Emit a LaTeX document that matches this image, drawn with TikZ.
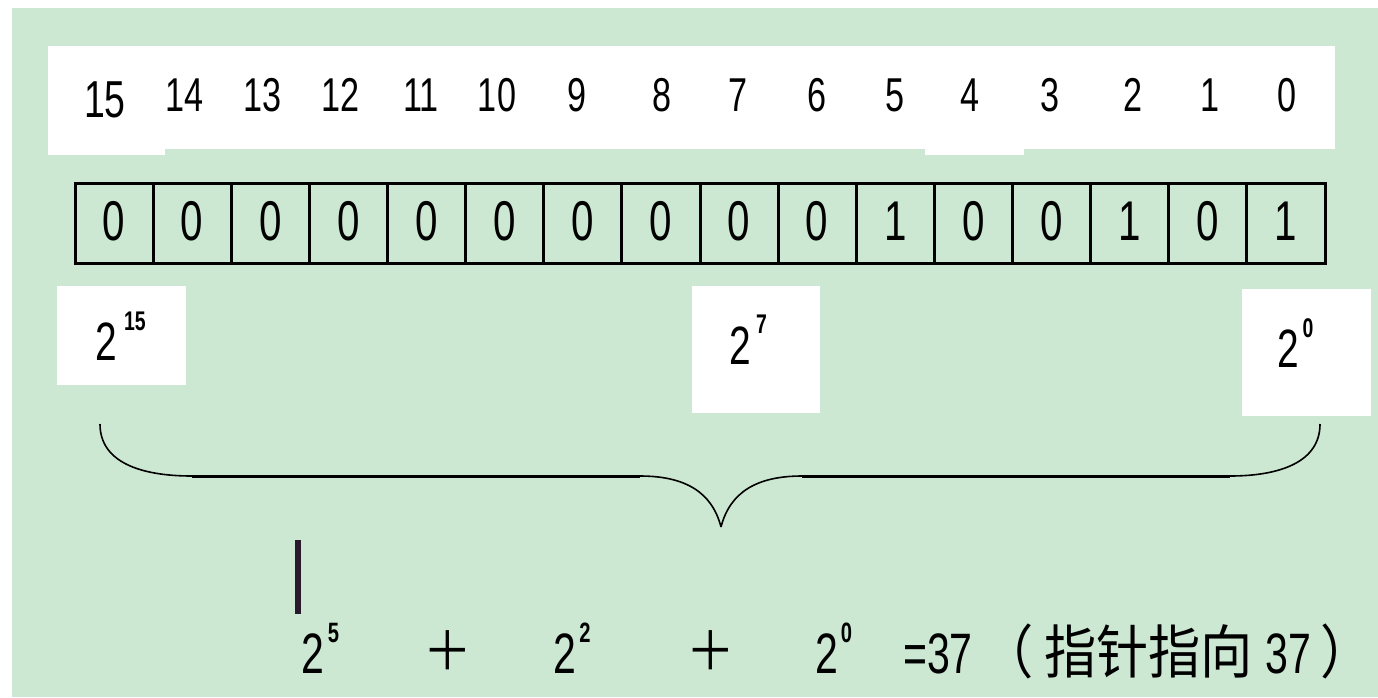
\documentclass[tikz,border=0pt]{standalone}
\usepackage{fontspec}
\newfontfamily\dig[FakeStretch=0.72]{Liberation Sans}
\newfontfamily\cjk[FakeStretch=0.9]{Noto Sans CJK SC}
\definecolor{bg}{RGB}{205,232,210}
\definecolor{barc}{RGB}{42,24,44}
\begin{document}
\begin{tikzpicture}[x=1pt,y=-1pt,
  lbl/.style={inner sep=0,anchor=base},
  idx/.style={lbl,font=\dig\fontsize{47.5}{47.5}\selectfont},
  bit/.style={lbl,font=\dig\fontsize{56}{56}\selectfont},
  cell/.style={draw,line width=3pt,minimum width=78.125pt,minimum height=80pt,inner sep=0,anchor=center},
  base/.style={lbl,font=\dig\fontsize{54}{54}\selectfont},
  sup/.style={lbl,font=\dig\bfseries\fontsize{27}{27}\selectfont},
  big/.style={lbl,font=\dig\fontsize{57}{57}\selectfont},
  bigsup/.style={lbl,font=\dig\bfseries\fontsize{28}{28}\selectfont},
  cjktext/.style={lbl,font=\cjk\fontsize{58}{58}\selectfont},
  hz/.style={line width=3pt},
  cv/.style={line width=1.6pt}]
\useasboundingbox (0,0) rectangle (1378,697);
\fill[white] (0,0) rectangle (1378,697);
\fill[bg] (12,8) rectangle (1378,697);
% index strip
\fill[white] (48,46) rectangle (1335,149);
\fill[white] (48,148) rectangle (165,155);
\fill[white] (925,148) rectangle (1024,155);
\node[idx,font=\dig\fontsize{52}{52}\selectfont] (i15) at (105,117) {15};
\foreach \n/\x in {14/185,13/263,12/341,11/421,10/497,9/577,8/662,7/738,6/817,5/895,4/970,3/1050,2/1133,1/1210,0/1287}
  \node[idx] (i\n) at (\x,111) {\n};
% bit cells
\foreach \i/\b in {0/0,1/0,2/0,3/0,4/0,5/0,6/0,7/0,8/0,9/0,10/1,11/0,12/0,13/1,14/0,15/1}{
  \node[cell] (c\i) at ({75+78.125*(\i+0.5)},223) {};
  \node[bit] (b\i) at ({75+78.125*(\i+0.5)},240) {\b};
}
% power boxes
\fill[white] (57,286) rectangle (186,385);
\fill[white] (692,286) rectangle (820,413);
\fill[white] (1242,289) rectangle (1371,416);
\node[base] (p15) at (106.5,360) {2};
\node[sup] (s15) at (135,330) {15};
\node[base] (p7) at (740.5,364) {2};
\node[sup] (s7) at (761.5,333) {7};
\node[base] (p0) at (1288.5,367) {2};
\node[sup] (s0) at (1308,337) {0};
% brace
\coordinate (bl) at (100,424);
\coordinate (bl2) at (192,476);
\coordinate (bm1) at (640,476);
\coordinate (tip) at (721,527);
\coordinate (bm2) at (802,476);
\coordinate (br2) at (1230,476);
\coordinate (br) at (1320,424);
\draw[cv] (bl) .. controls (100,462) and (140,476) .. (bl2);
\draw[hz] (bl2) -- (bm1);
\draw[cv] (bm1) .. controls (685,476) and (712,492) .. (tip);
\draw[cv] (tip) .. controls (730,492) and (757,476) .. (bm2);
\draw[hz] (bm2) -- (br2);
\draw[cv] (br2) .. controls (1280,476) and (1320,462) .. (br);
% cursor bar
\fill[barc] (295,540) rectangle (301,614);
% sum line
\node[big] (q5) at (312.5,673) {2};
\node[bigsup] (r5) at (333.5,642) {5};
\node[inner sep=0,font=\cjk\fontsize{54}{54}\selectfont] (plus1) at (447.5,651) {＋};
\node[big] (q2) at (564.5,673) {2};
\node[bigsup] (r2) at (585,642) {2};
\node[inner sep=0,font=\cjk\fontsize{54}{54}\selectfont] (plus2) at (711,651) {＋};
\node[big] (q0) at (826.5,673) {2};
\node[bigsup] (r0) at (846.5,642) {0};
\node[big,anchor=base west] (eq) at (903,673) {=37};
\node[cjktext] (lp) at (1008,673) {（};
\node[cjktext,anchor=base west] (txt) at (1044,673) {指针指向};
\node[big] (n37) at (1288,673) {37};
\node[cjktext,anchor=base west] (rp) at (1320,673) {）};
\end{tikzpicture}
\end{document}
